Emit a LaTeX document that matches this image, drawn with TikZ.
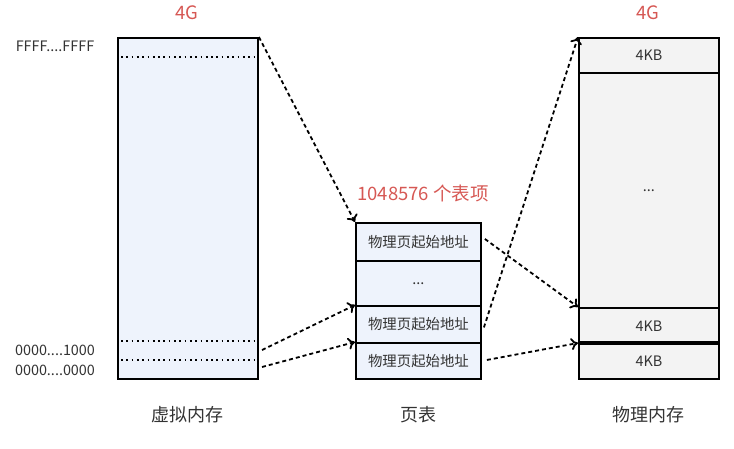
\documentclass[tikz,border=0pt]{standalone}
\usepackage{fontspec}
\setmainfont{Noto Sans CJK SC}
\usetikzlibrary{arrows.meta}
\definecolor{labelred}{RGB}{214,88,84}
\definecolor{vfill}{RGB}{238,243,252}
\definecolor{pfill}{RGB}{243,243,243}
\definecolor{textgray}{RGB}{51,51,51}
\tikzset{
    membox/.style={draw=black, line width=1.9pt, anchor=north west, inner sep=0pt, text=textgray, font=\fontsize{14.4}{16}\selectfont},
    ptebox/.style={membox, fill=vfill, minimum width=125pt},
    pmbox/.style={membox, fill=pfill, minimum width=140pt},
    mapping/.style={line width=1.8pt, dash pattern=on 4pt off 3pt, -{To[length=7pt,width=12pt]}},
    addr/.style={text=textgray, font=\fontsize{14.4}{16}\selectfont},
    caption/.style={text=textgray, font=\fontsize{18}{20}\selectfont},
    sizelabel/.style={text=labelred, font=\fontsize{18.5}{20}\selectfont}
}
\begin{document}
\begin{tikzpicture}[x=1pt, y=-1pt]
    \useasboundingbox (0,0) rectangle (734,448);

    % Virtual memory
    \node[membox, fill=vfill, minimum width=140pt, minimum height=341pt] (vmem) at (117,37) {};
    \foreach \y in {57, 341, 360}
        \draw[line width=1.7pt, dash pattern=on 1.7pt off 3.6pt] (121,\y) -- (254,\y);
    \node[sizelabel] (vsize) at (187,13) {4G};
    \node[addr] (vtop) at (55,46) {FFFF....FFFF};
    \node[addr] (v1000) at (55,350) {0000....1000};
    \node[addr] (v0000) at (55,370) {0000....0000};
    \node[caption] (vname) at (187,415) {虚拟内存};

    % Page table
    \node[ptebox, minimum height=38pt] (pte1) at (355,222) {物理页起始地址};
    \node[ptebox, minimum height=45pt] (pte2) at (355,260) {...};
    \node[ptebox, minimum height=37pt] (pte3) at (355,305) {物理页起始地址};
    \node[ptebox, minimum height=36pt] (pte4) at (355,342) {物理页起始地址};
    \node[sizelabel] (ptcount) at (423,193) {1048576 个表项};
    \node[caption] (ptname) at (418,415) {页表};

    % Physical memory
    \node[pmbox, minimum height=35pt] (pm1) at (578,37) {4KB};
    \node[pmbox, minimum height=235pt] (pm2) at (578,72) {...};
    \node[pmbox, minimum height=36pt] (pm3) at (578,307) {4KB};
    \node[pmbox, minimum height=35pt] (pm4) at (578,343) {4KB};
    \draw[line width=3.2pt] (pm4.north west) -- (pm4.north east);
    \node[sizelabel] (psize) at (648,13) {4G};
    \node[caption] (pname) at (648,415) {物理内存};

    % Mappings
    \coordinate (vhigh) at (262,350);
    \coordinate (vlow) at (262,367);
    \draw[mapping] (vmem.north east) -- (pte1.north west);
    \draw[mapping] (vhigh) -- (pte3.north west);
    \draw[mapping] (vlow) -- (pte4.north west);
    \draw[mapping] ([xshift=3pt, yshift=3pt]pte1.east) -- (pm3.north west);
    \draw[mapping] ([xshift=2pt, yshift=-3pt]pte3.east) -- (pm1.north west);
    \draw[mapping] ([xshift=5pt, yshift=1pt]pte4.east) -- (pm4.north west);
\end{tikzpicture}
\end{document}
